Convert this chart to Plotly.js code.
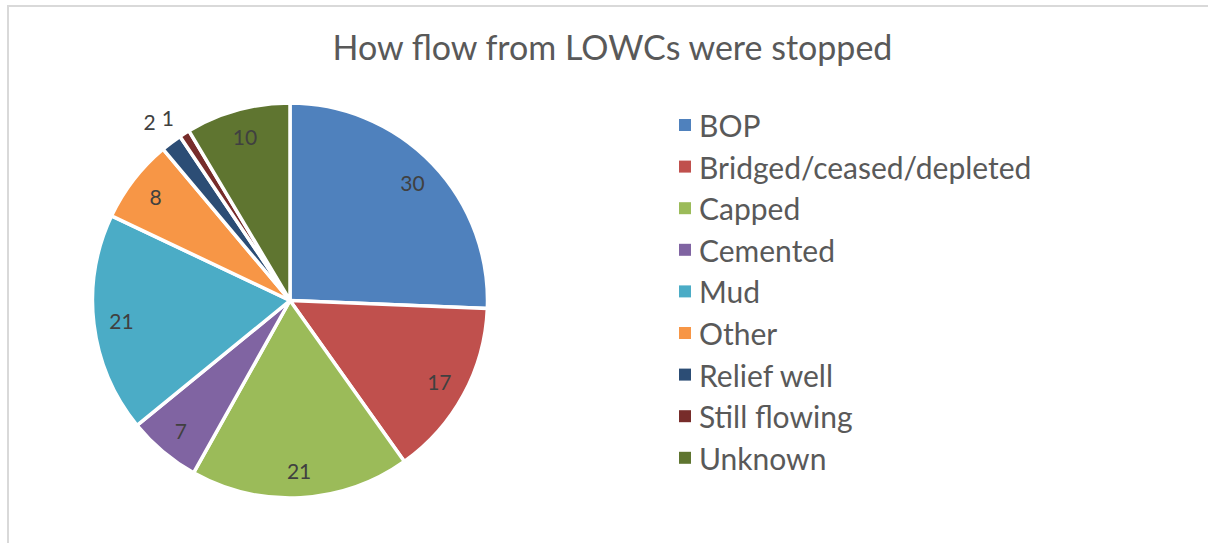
<!DOCTYPE html>
<html><head><meta charset="utf-8">
<script src="https://cdn.plot.ly/plotly-3.0.1.min.js"></script>
<style>
html,body{margin:0;padding:0;background:#fff;overflow:hidden;}
#frame{position:absolute;left:7px;top:5px;width:1300px;height:700px;border:2px solid #d9d9d9;box-sizing:border-box;pointer-events:none;z-index:5;}
#chart{position:absolute;left:0;top:0;width:1208px;height:543px;}
</style></head>
<body>
<div id="chart"></div>
<div id="frame"></div>
<script>
const categories = ["BOP","Bridged/ceased/depleted","Capped","Cemented","Mud","Other","Relief well","Still flowing","Unknown"];
const counts = [30,17,21,7,21,8,2,1,10];
const sliceColors = ["#4F81BD","#C0504D","#9BBB59","#8064A2","#4BACC6","#F79646","#2C4D75","#772C2A","#5F7530"];
const chartTitle = "How flow from LOWCs were stopped";

const W = 1208, H = 543;
const FONT = "Lato, 'Open Sans', sans-serif";
const px = x => x / W;
const py = y => 1 - y / H;
const CX = 290, CY = 300.5, R = 197.5;
const domainFor = k => ({x: [px(CX - R * k), px(CX + R * k)], y: [py(CY + R * k), py(CY - R * k)]});
const clear = categories.map(() => "rgba(0,0,0,0)");
const labelFont = {family: FONT, size: 21, color: "#404040"};

const base = {
  type: "pie", labels: categories, values: counts, sort: false,
  direction: "clockwise", rotation: 0, domain: domainFor(1), showlegend: false
};

// main pie (slices only)
const pieTrace = Object.assign({}, base, {
  marker: {colors: sliceColors, line: {color: "#ffffff", width: 3.5}},
  textinfo: "none", hoverinfo: "label+value"
});

// inside labels placed in an invisible ring near the rim
const insideLabels = Object.assign({}, base, {
  hole: 0.72,
  marker: {colors: clear, line: {width: 0}},
  texttemplate: counts.map(v => v >= 3 ? "%{value}" : ""),
  textposition: "inside", insidetextorientation: "horizontal",
  insidetextfont: labelFont, hoverinfo: "skip"
});

// outside labels for the thin slices, one invisible trace each so they are not shifted
const outsideScale = {6: 1.08, 7: 1.04};
const outsideTraces = counts.map((v, i) => v < 3 ? Object.assign({}, base, {
  domain: domainFor(outsideScale[i] || 1.06),
  marker: {colors: clear, line: {width: 0}},
  texttemplate: counts.map((w, j) => j === i ? "%{value}" : ""),
  textposition: "outside", outsidetextfont: labelFont, hoverinfo: "skip"
}) : null).filter(t => t);

const shapes = [], annotations = [];
const legX = 679, legY0 = 125, legStep = 41.6, sq = 12;
categories.forEach((c, i) => {
  const yc = legY0 + i * legStep;
  shapes.push({type: "rect", xref: "paper", yref: "paper",
    x0: px(legX), x1: px(legX + sq), y0: py(yc + sq/2), y1: py(yc - sq/2),
    fillcolor: sliceColors[i], line: {width: 0}});
  annotations.push({xref: "paper", yref: "paper", x: px(legX + 18), y: py(yc),
    xanchor: "left", yanchor: "middle", showarrow: false, text: c,
    font: {family: FONT, size: 30, color: "#595959"}});
});

const layout = {
  width: W, height: H,
  margin: {l: 0, r: 0, t: 0, b: 0},
  paper_bgcolor: "#ffffff",
  title: {text: chartTitle, x: 0.507, xanchor: "center", y: py(48), yanchor: "middle",
    font: {family: FONT, size: 34, color: "#595959"}},
  shapes: shapes,
  annotations: annotations,
  showlegend: false
};

Plotly.newPlot("chart", [pieTrace, insideLabels].concat(outsideTraces), layout, {displayModeBar: false, staticPlot: true});
</script>
</body></html>
